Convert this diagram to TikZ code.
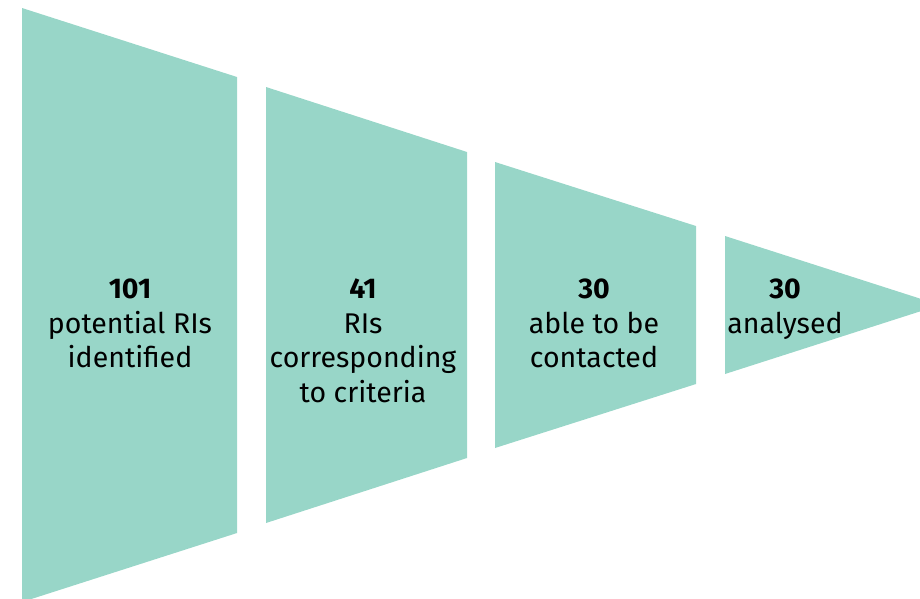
\documentclass[tikz,border=0pt]{standalone}
\usepackage{fontspec}
\setmainfont{Fira Sans}
\definecolor{funnel}{RGB}{152,214,200}
\begin{document}
\begin{tikzpicture}[x=1pt,y=-1pt,
  seg/.style={fill=funnel,draw=none},
  lbl/.style={anchor=north,inner sep=0pt,align=center,text=black,font=\fontsize{28.5}{34.5}\selectfont}]
\useasboundingbox (0,0) rectangle (920,598);
\begin{scope}
\clip (0,0) rectangle (920,598);
\fill[seg] (22,8) -- (237,77) -- (237,533) -- (22,602) -- cycle;
\fill[seg] (266,87) -- (467,152) -- (467,458) -- (266,523) -- cycle;
\fill[seg] (495,162) -- (696,226) -- (696,384) -- (495,448) -- cycle;
\fill[seg] (725,236) -- (940,305) -- (725,374) -- cycle;
\end{scope}
\node[lbl] (t1) at (130,279) {\textbf{101}\\potential RIs\\identified};
\node[lbl] (t2) at (363,279) {\textbf{41}\\RIs\\corresponding\\to criteria};
\node[lbl] (t3) at (594,279) {\textbf{30}\\able to be\\contacted};
\node[lbl] (t4) at (785,279) {\textbf{30}\\analysed};
\end{tikzpicture}
\end{document}
